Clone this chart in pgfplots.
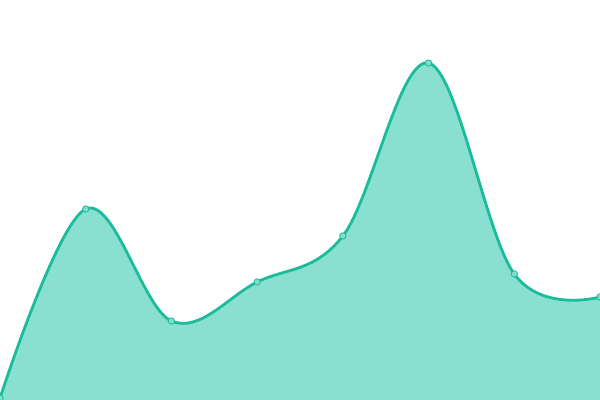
\documentclass[border=0pt]{standalone}
\usepackage{pgfplots}
\pgfplotsset{compat=1.18}
\definecolor{linec}{HTML}{1ABC9C}
\definecolor{fillc}{HTML}{89E0D0}
\definecolor{markc}{HTML}{7FDDCB}

\begin{document}
\begin{tikzpicture}
    \begin{axis}[
        scale only axis,
        width=600bp, height=400bp,
        xmin=0, xmax=7,
        ymin=0, ymax=400,
        hide axis]

    \addplot[draw=none, fill=fillc, smooth, tension=0.6] coordinates {
        (0, 2) (1, 191) (2, 79) (3, 118) (4, 164) (5, 337) (6, 126) (7, 103)
    } \closedcycle;
    \addplot[linec, line width=2.8bp, smooth, tension=0.6] coordinates {
        (0, 2) (1, 191) (2, 79) (3, 118) (4, 164) (5, 337) (6, 126) (7, 103)
    };
    \addplot[only marks, mark=*, mark size=3.2bp,
        mark options={fill=markc, draw=linec, line width=0.8bp}] coordinates {
        (0, 2) (1, 191) (2, 79) (3, 118) (4, 164) (5, 337) (6, 126) (7, 103)
    };

    \end{axis}
    \pgfresetboundingbox
    \path (0,0) rectangle (600bp,400bp);
\end{tikzpicture}
\end{document}
